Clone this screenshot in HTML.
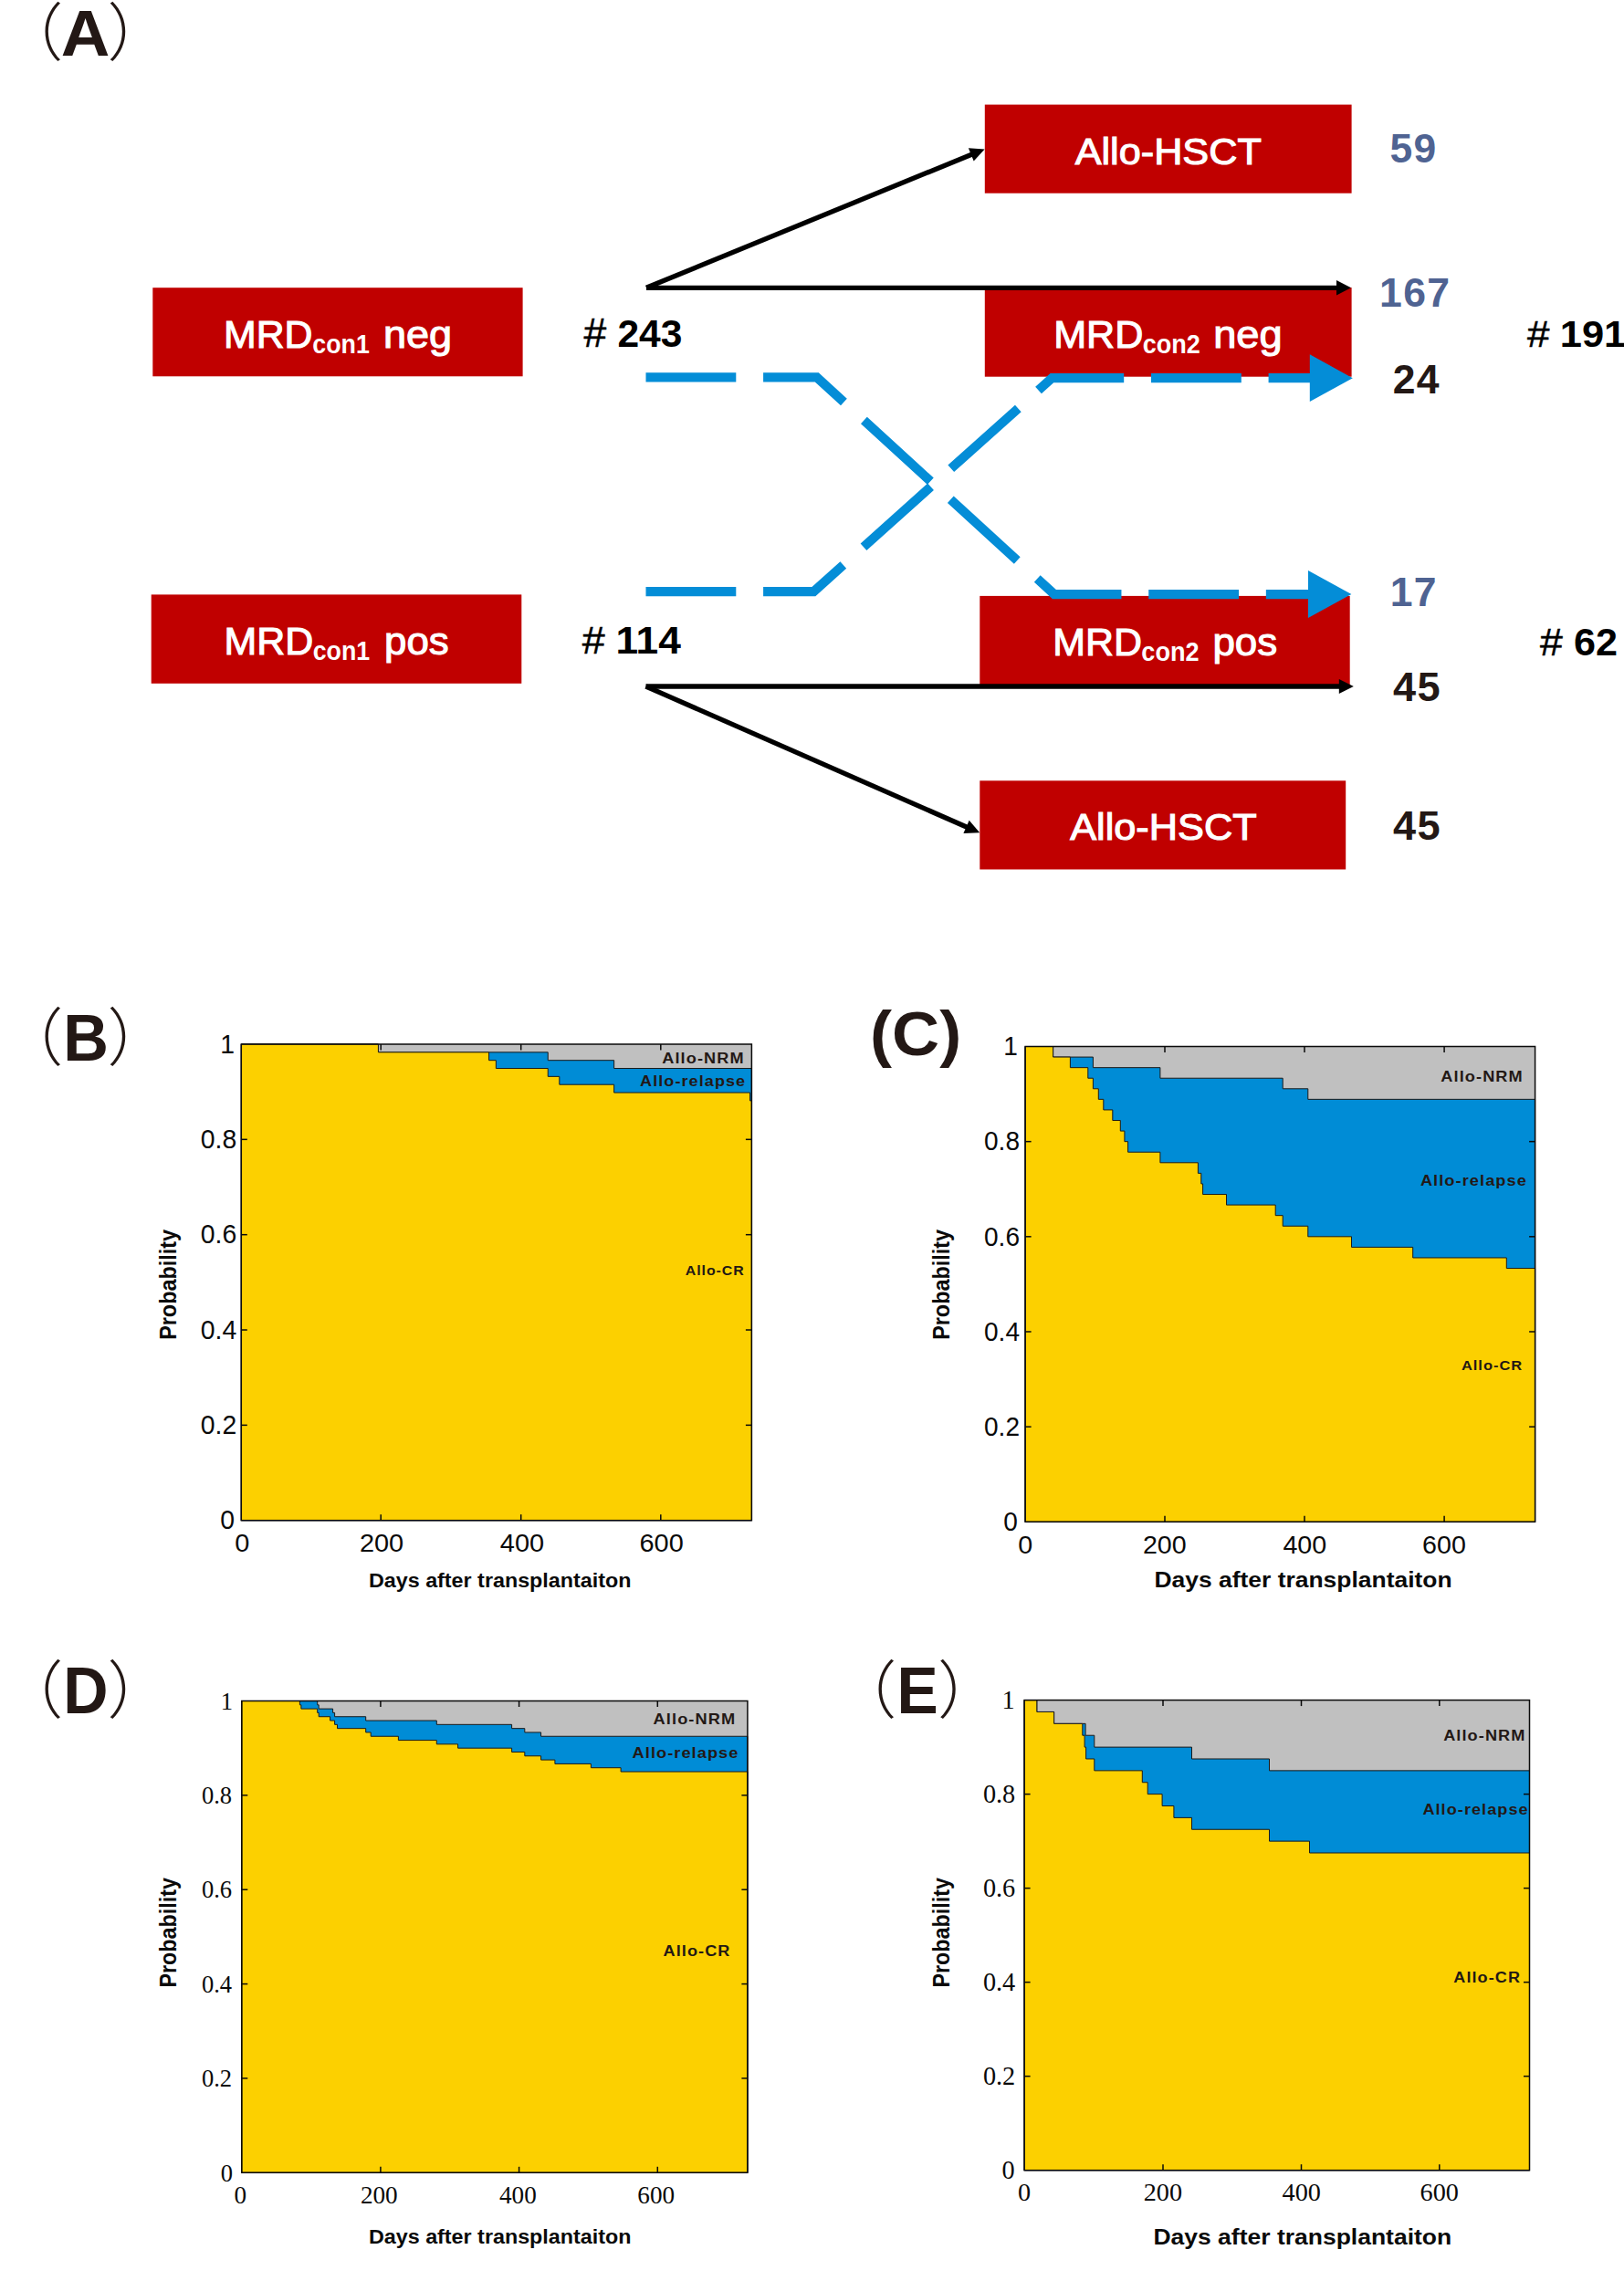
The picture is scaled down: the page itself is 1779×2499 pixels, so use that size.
<!DOCTYPE html>
<html lang="en"><head><meta charset="utf-8"><title>Figure</title>
<style>html,body{margin:0;padding:0;background:#fff}svg{display:block}</style></head>
<body>
<svg width="1779" height="2499" viewBox="0 0 1779 2499">
<rect width="1779" height="2499" fill="#fff"/>
<rect x="167.3" y="315.2" width="405.3" height="97.1" fill="#C00000"/>
<rect x="165.7" y="651.4" width="405.6" height="97.4" fill="#C00000"/>
<rect x="1078.8" y="114.6" width="401.8" height="97.1" fill="#C00000"/>
<rect x="1078.8" y="315" width="401.8" height="97.7" fill="#C00000"/>
<rect x="1073.3" y="652.9" width="405.4" height="97.6" fill="#C00000"/>
<rect x="1073.3" y="855.3" width="400.9" height="97.2" fill="#C00000"/>
<line x1="708.0" y1="315.3" x2="1466.0" y2="315.3" stroke="#000" stroke-width="5.3"/>
<polygon points="1480.0,315.3 1464.0,323.6 1464.0,307.1" fill="#000"/>
<line x1="708.0" y1="315.3" x2="1065.6" y2="168.7" stroke="#000" stroke-width="5.3"/>
<polygon points="1078.6,163.4 1066.7,176.6 1060.9,162.3" fill="#000"/>
<line x1="707.5" y1="752.0" x2="1468.8" y2="752.0" stroke="#000" stroke-width="5.5"/>
<polygon points="1482.8,752.0 1466.8,760.0 1466.8,744.0" fill="#000"/>
<line x1="707.5" y1="752.0" x2="1060.4" y2="906.7" stroke="#000" stroke-width="5.3"/>
<polygon points="1073.2,912.3 1055.4,913.0 1061.7,898.8" fill="#000"/>
<path d="M707.5,413.4 L894.8,413.4 L1154.9,651.1 L1436.0,651.1" fill="none" stroke="#048DD7" stroke-width="10.1" stroke-dasharray="98.8 29.8" stroke-linejoin="miter"/>
<polygon points="1480.4,651 1433,625.1 1433,676.9" fill="#048DD7"/>
<path d="M707.5,648.1 L891.4,648.1 L1152.5,414.1 L1437.0,414.1" fill="none" stroke="#048DD7" stroke-width="10.1" stroke-dasharray="98.8 29.8" stroke-linejoin="miter"/>
<polygon points="1481.8,414.2 1434.8,388.3 1434.8,440.09999999999997" fill="#048DD7"/>
<text transform="translate(245.08,380.7) scale(1.0107,1)" font-family='"Liberation Sans", sans-serif' font-size="42.35" fill="#fff" stroke="#fff" stroke-width="1.1">MRD</text>
<text transform="translate(342.33,386.7) scale(0.9229,1)" font-family='"Liberation Sans", sans-serif' font-size="29.03" font-weight="bold" fill="#fff" >con1</text>
<text transform="translate(419.98,380.7) scale(1.0474,1)" font-family='"Liberation Sans", sans-serif' font-size="43" fill="#fff" stroke="#fff" stroke-width="1.1">neg</text>
<text transform="translate(245.47,716.6) scale(1.0129,1)" font-family='"Liberation Sans", sans-serif' font-size="42.35" fill="#fff" stroke="#fff" stroke-width="1.1">MRD</text>
<text transform="translate(342.73,722.6) scale(0.9229,1)" font-family='"Liberation Sans", sans-serif' font-size="29.03" font-weight="bold" fill="#fff" >con1</text>
<text transform="translate(421.05,716.6) scale(1.0195,1)" font-family='"Liberation Sans", sans-serif' font-size="43" fill="#fff" stroke="#fff" stroke-width="1.1">pos</text>
<text transform="translate(1154.15,380.6) scale(1.0184,1)" font-family='"Liberation Sans", sans-serif' font-size="42.35" fill="#fff" stroke="#fff" stroke-width="1.1">MRD</text>
<text transform="translate(1251.72,386.6) scale(0.9414,1)" font-family='"Liberation Sans", sans-serif' font-size="28.75" font-weight="bold" fill="#fff" >con2</text>
<text transform="translate(1329.17,380.6) scale(1.0519,1)" font-family='"Liberation Sans", sans-serif' font-size="43" fill="#fff" stroke="#fff" stroke-width="1.1">neg</text>
<text transform="translate(1153.27,718.4) scale(1.0140,1)" font-family='"Liberation Sans", sans-serif' font-size="42.35" fill="#fff" stroke="#fff" stroke-width="1.1">MRD</text>
<text transform="translate(1250.32,724.4) scale(0.9430,1)" font-family='"Liberation Sans", sans-serif' font-size="28.75" font-weight="bold" fill="#fff" >con2</text>
<text transform="translate(1328.45,718.4) scale(1.0210,1)" font-family='"Liberation Sans", sans-serif' font-size="43" fill="#fff" stroke="#fff" stroke-width="1.1">pos</text>
<text transform="translate(1177.67,179.9) scale(1.0663,1)" font-family='"Liberation Sans", sans-serif' font-size="40.55" fill="#fff" stroke="#fff" stroke-width="1.1">Allo-HSCT</text>
<text transform="translate(1172.17,920.2) scale(1.0679,1)" font-family='"Liberation Sans", sans-serif' font-size="40.55" fill="#fff" stroke="#fff" stroke-width="1.1">Allo-HSCT</text>
<text transform="translate(639.4,380.4) scale(1.0214,1)" font-family='"Liberation Sans", sans-serif' font-size="43.51" fill="#000" stroke="#000" stroke-width="0.5">#</text>
<text transform="translate(676.46,380.4) scale(0.9903,1)" font-family='"Liberation Sans", sans-serif' font-size="42.94" font-weight="bold" fill="#000" >243</text>
<text transform="translate(637.8,715.9) scale(1.0368,1)" font-family='"Liberation Sans", sans-serif' font-size="43.22" fill="#000" stroke="#000" stroke-width="0.5">#</text>
<text transform="translate(674.38,715.9) scale(1.0312,1)" font-family='"Liberation Sans", sans-serif' font-size="42.95" font-weight="bold" fill="#000" >114</text>
<text transform="translate(1673.1,379.8) scale(1.0586,1)" font-family='"Liberation Sans", sans-serif' font-size="41.46" fill="#000" stroke="#000" stroke-width="0.5">#</text>
<text transform="translate(1708.74,379.8) scale(1.0591,1)" font-family='"Liberation Sans", sans-serif' font-size="41.04" font-weight="bold" fill="#000" >191</text>
<text transform="translate(1687,717.5) scale(1.0539,1)" font-family='"Liberation Sans", sans-serif' font-size="42.34" fill="#000" stroke="#000" stroke-width="0.5">#</text>
<text transform="translate(1724.12,717.5) scale(1.0340,1)" font-family='"Liberation Sans", sans-serif' font-size="41.7" font-weight="bold" fill="#000" >62</text>
<text transform="translate(1522.57,177.8) scale(0.9879,1)" font-family='"Liberation Sans", sans-serif' font-size="44.97" font-weight="bold" fill="#4F6392"  letter-spacing="1.35">59</text>
<text transform="translate(1511.07,336.2) scale(0.9923,1)" font-family='"Liberation Sans", sans-serif' font-size="44.9" font-weight="bold" fill="#4F6392"  letter-spacing="1.35">167</text>
<text transform="translate(1525.79,431.4) scale(0.9913,1)" font-family='"Liberation Sans", sans-serif' font-size="44.87" font-weight="bold" fill="#231815"  letter-spacing="1.35">24</text>
<text transform="translate(1522.67,663.6) scale(1.0007,1)" font-family='"Liberation Sans", sans-serif' font-size="44.51" font-weight="bold" fill="#4F6392"  letter-spacing="1.34">17</text>
<text transform="translate(1526.09,768.1) scale(1.0057,1)" font-family='"Liberation Sans", sans-serif' font-size="44.94" font-weight="bold" fill="#231815"  letter-spacing="1.35">45</text>
<text transform="translate(1526.09,919.9) scale(1.0123,1)" font-family='"Liberation Sans", sans-serif' font-size="44.65" font-weight="bold" fill="#231815"  letter-spacing="1.34">45</text>
<text transform="translate(66.87,60.6) scale(1.0418,1)" font-family='"Liberation Sans", sans-serif' font-size="71.25" font-weight="bold" fill="#231815" >A</text>
<text x="0.2" y="61.1" font-family='"Noto Sans CJK SC", "Liberation Sans", sans-serif' font-size="69" font-weight="300" fill="#231815">（</text>
<text x="117.6" y="61.1" font-family='"Noto Sans CJK SC", "Liberation Sans", sans-serif' font-size="69" font-weight="300" fill="#231815">）</text>
<text transform="translate(69.3,1161.8) scale(0.9572,1)" font-family='"Liberation Sans", sans-serif' font-size="71.87" font-weight="bold" fill="#231815" >B</text>
<text x="0.2" y="1161.8" font-family='"Noto Sans CJK SC", "Liberation Sans", sans-serif' font-size="69" font-weight="300" fill="#231815">（</text>
<text x="117.6" y="1161.8" font-family='"Noto Sans CJK SC", "Liberation Sans", sans-serif' font-size="69" font-weight="300" fill="#231815">）</text>
<text transform="translate(69.34,1876.7) scale(0.9508,1)" font-family='"Liberation Sans", sans-serif' font-size="71.75" font-weight="bold" fill="#231815" >D</text>
<text x="0.2" y="1876.9" font-family='"Noto Sans CJK SC", "Liberation Sans", sans-serif' font-size="69" font-weight="300" fill="#231815">（</text>
<text x="117.6" y="1876.9" font-family='"Noto Sans CJK SC", "Liberation Sans", sans-serif' font-size="69" font-weight="300" fill="#231815">）</text>
<text transform="translate(982.57,1876.7) scale(0.9483,1)" font-family='"Liberation Sans", sans-serif' font-size="71.45" font-weight="bold" fill="#231815" >E</text>
<text x="913.2" y="1876.9" font-family='"Noto Sans CJK SC", "Liberation Sans", sans-serif' font-size="69" font-weight="300" fill="#231815">（</text>
<text x="1027.1" y="1876.9" font-family='"Noto Sans CJK SC", "Liberation Sans", sans-serif' font-size="69" font-weight="300" fill="#231815">）</text>
<text transform="translate(953.06,1156) scale(1.0531,1)" font-family='"Liberation Sans", sans-serif' font-size="68.49" font-weight="bold" fill="#231815" >(C)</text>
<rect x="264.3" y="1144" width="559.1" height="521.7" fill="#C0C0C0"/>
<path d="M264.3,1144 L414.41,1144 L414.41,1152.84 L600.24,1152.84 L600.24,1161.68 L672.65,1161.68 L672.65,1170.53 L823.4,1170.53 L823.4,1665.7 L264.3,1665.7 Z" fill="#008CD6" stroke="#1a1a1a" stroke-width="1" stroke-linejoin="miter"/>
<path d="M264.3,1144 L414.41,1144 L414.41,1152.84 L535.59,1152.84 L535.59,1161.68 L543.35,1161.68 L543.35,1170.53 L600.24,1170.53 L600.24,1179.37 L612.8,1179.37 L612.8,1188.21 L672.65,1188.21 L672.65,1197.05 L821.54,1197.05 L821.54,1205.9 L823.4,1205.9 L823.4,1665.7 L264.3,1665.7 Z" fill="#FCD000" stroke="#1a1a1a" stroke-width="1" stroke-linejoin="miter"/>
<rect x="264.3" y="1144" width="559.1" height="521.7" fill="none" stroke="#0a0a0a" stroke-width="1.5"/>
<text transform="translate(257.01,1675.2) scale(0.9674,1)" font-family='"Liberation Sans", sans-serif' font-size="29.33" text-anchor="end" fill="#0a0a0a">0</text>
<line x1="264.3" y1="1561.36" x2="270.8" y2="1561.36" stroke="#0a0a0a" stroke-width="1.5"/>
<line x1="823.4" y1="1561.36" x2="816.9" y2="1561.36" stroke="#0a0a0a" stroke-width="1.5"/>
<text transform="translate(259.21,1570.86) scale(0.9674,1)" font-family='"Liberation Sans", sans-serif' font-size="29.33" text-anchor="end" fill="#0a0a0a">0.2</text>
<line x1="264.3" y1="1457.02" x2="270.8" y2="1457.02" stroke="#0a0a0a" stroke-width="1.5"/>
<line x1="823.4" y1="1457.02" x2="816.9" y2="1457.02" stroke="#0a0a0a" stroke-width="1.5"/>
<text transform="translate(259.21,1466.52) scale(0.9674,1)" font-family='"Liberation Sans", sans-serif' font-size="29.33" text-anchor="end" fill="#0a0a0a">0.4</text>
<line x1="264.3" y1="1352.68" x2="270.8" y2="1352.68" stroke="#0a0a0a" stroke-width="1.5"/>
<line x1="823.4" y1="1352.68" x2="816.9" y2="1352.68" stroke="#0a0a0a" stroke-width="1.5"/>
<text transform="translate(259.21,1362.18) scale(0.9674,1)" font-family='"Liberation Sans", sans-serif' font-size="29.33" text-anchor="end" fill="#0a0a0a">0.6</text>
<line x1="264.3" y1="1248.34" x2="270.8" y2="1248.34" stroke="#0a0a0a" stroke-width="1.5"/>
<line x1="823.4" y1="1248.34" x2="816.9" y2="1248.34" stroke="#0a0a0a" stroke-width="1.5"/>
<text transform="translate(259.21,1257.84) scale(0.9674,1)" font-family='"Liberation Sans", sans-serif' font-size="29.33" text-anchor="end" fill="#0a0a0a">0.8</text>
<text transform="translate(257.01,1153.5) scale(0.9674,1)" font-family='"Liberation Sans", sans-serif' font-size="29.33" text-anchor="end" fill="#0a0a0a">1</text>
<text transform="translate(257.29,1700.2) scale(1.0493,1)" font-family='"Liberation Sans", sans-serif' font-size="27.61" fill="#0a0a0a" >0</text>
<line x1="417.2" y1="1665.7" x2="417.2" y2="1659.2" stroke="#0a0a0a" stroke-width="1.5"/>
<line x1="417.2" y1="1144" x2="417.2" y2="1150.5" stroke="#0a0a0a" stroke-width="1.5"/>
<text transform="translate(393.88,1700.2) scale(1.0494,1)" font-family='"Liberation Sans", sans-serif' font-size="27.61" fill="#0a0a0a" >200</text>
<line x1="570.7" y1="1665.7" x2="570.7" y2="1659.2" stroke="#0a0a0a" stroke-width="1.5"/>
<line x1="570.7" y1="1144" x2="570.7" y2="1150.5" stroke="#0a0a0a" stroke-width="1.5"/>
<text transform="translate(547.81,1700.2) scale(1.0491,1)" font-family='"Liberation Sans", sans-serif' font-size="27.62" fill="#0a0a0a" >400</text>
<line x1="723.8" y1="1665.7" x2="723.8" y2="1659.2" stroke="#0a0a0a" stroke-width="1.5"/>
<line x1="723.8" y1="1144" x2="723.8" y2="1150.5" stroke="#0a0a0a" stroke-width="1.5"/>
<text transform="translate(700.46,1700.2) scale(1.0494,1)" font-family='"Liberation Sans", sans-serif' font-size="27.61" fill="#0a0a0a" >600</text>
<text transform="translate(725.28,1164.6) scale(1.0682,1)" font-family='"Liberation Sans", sans-serif' font-size="16.99" font-weight="bold" fill="#231815"  letter-spacing="1.02">Allo-NRM</text>
<text transform="translate(701.08,1189.6) scale(1.1054,1)" font-family='"Liberation Sans", sans-serif' font-size="16.3" font-weight="bold" fill="#231815"  letter-spacing="0.98">Allo-relapse</text>
<text transform="translate(750.74,1396.5) scale(1.0461,1)" font-family='"Liberation Sans", sans-serif' font-size="15.21" font-weight="bold" fill="#231815"  letter-spacing="0.91">Allo-CR</text>
<text transform="translate(403.94,1739) scale(1.0229,1)" font-family='"Liberation Sans", sans-serif' font-size="22.79" font-weight="bold" fill="#0a0a0a" >Days after transplantaiton</text>
<text transform="translate(192.9,1467.87) rotate(-90) scale(0.9046,1)" font-family='"Liberation Sans", sans-serif' font-size="25.89" font-weight="bold" fill="#0a0a0a">Probability</text>
<rect x="1123.1" y="1146.5" width="558.5" height="520.8" fill="#C0C0C0"/>
<path d="M1123.1,1146.5 L1153.6,1146.5 L1153.6,1158.07 L1197.4,1158.07 L1197.4,1169.65 L1270.9,1169.65 L1270.9,1181.22 L1405.2,1181.22 L1405.2,1192.79 L1432.8,1192.79 L1432.8,1204.37 L1681.6,1204.37 L1681.6,1667.3 L1123.1,1667.3 Z" fill="#008CD6" stroke="#1a1a1a" stroke-width="1" stroke-linejoin="miter"/>
<path d="M1123.1,1146.5 L1153.6,1146.5 L1153.6,1158.07 L1172.4,1158.07 L1172.4,1169.65 L1191.8,1169.65 L1191.8,1181.22 L1197.4,1181.22 L1197.4,1192.79 L1203.3,1192.79 L1203.3,1204.37 L1208.8,1204.37 L1208.8,1215.94 L1218.8,1215.94 L1218.8,1227.51 L1227.3,1227.51 L1227.3,1239.09 L1231.9,1239.09 L1231.9,1250.66 L1235.6,1250.66 L1235.6,1262.23 L1270.9,1262.23 L1270.9,1273.81 L1312.4,1273.81 L1312.4,1285.38 L1315.8,1285.38 L1315.8,1296.95 L1317.6,1296.95 L1317.6,1308.53 L1343.5,1308.53 L1343.5,1320.1 L1397.2,1320.1 L1397.2,1331.67 L1405.2,1331.67 L1405.2,1343.25 L1432.8,1343.25 L1432.8,1354.82 L1480.5,1354.82 L1480.5,1366.39 L1547.7,1366.39 L1547.7,1377.97 L1650.3,1377.97 L1650.3,1389.54 L1681.6,1389.54 L1681.6,1667.3 L1123.1,1667.3 Z" fill="#FCD000" stroke="#1a1a1a" stroke-width="1" stroke-linejoin="miter"/>
<rect x="1123.1" y="1146.5" width="558.5" height="520.8" fill="none" stroke="#0a0a0a" stroke-width="1.5"/>
<text transform="translate(1114.9,1677.1) scale(0.9569,1)" font-family='"Liberation Sans", sans-serif' font-size="29.33" text-anchor="end" fill="#0a0a0a">0</text>
<line x1="1123.1" y1="1563.14" x2="1129.6" y2="1563.14" stroke="#0a0a0a" stroke-width="1.5"/>
<line x1="1681.6" y1="1563.14" x2="1675.1" y2="1563.14" stroke="#0a0a0a" stroke-width="1.5"/>
<text transform="translate(1117,1572.94) scale(0.9569,1)" font-family='"Liberation Sans", sans-serif' font-size="29.33" text-anchor="end" fill="#0a0a0a">0.2</text>
<line x1="1123.1" y1="1458.98" x2="1129.6" y2="1458.98" stroke="#0a0a0a" stroke-width="1.5"/>
<line x1="1681.6" y1="1458.98" x2="1675.1" y2="1458.98" stroke="#0a0a0a" stroke-width="1.5"/>
<text transform="translate(1117,1468.78) scale(0.9569,1)" font-family='"Liberation Sans", sans-serif' font-size="29.33" text-anchor="end" fill="#0a0a0a">0.4</text>
<line x1="1123.1" y1="1354.82" x2="1129.6" y2="1354.82" stroke="#0a0a0a" stroke-width="1.5"/>
<line x1="1681.6" y1="1354.82" x2="1675.1" y2="1354.82" stroke="#0a0a0a" stroke-width="1.5"/>
<text transform="translate(1117,1364.62) scale(0.9569,1)" font-family='"Liberation Sans", sans-serif' font-size="29.33" text-anchor="end" fill="#0a0a0a">0.6</text>
<line x1="1123.1" y1="1250.66" x2="1129.6" y2="1250.66" stroke="#0a0a0a" stroke-width="1.5"/>
<line x1="1681.6" y1="1250.66" x2="1675.1" y2="1250.66" stroke="#0a0a0a" stroke-width="1.5"/>
<text transform="translate(1117,1260.46) scale(0.9569,1)" font-family='"Liberation Sans", sans-serif' font-size="29.33" text-anchor="end" fill="#0a0a0a">0.8</text>
<text transform="translate(1114.9,1156.3) scale(0.9569,1)" font-family='"Liberation Sans", sans-serif' font-size="29.33" text-anchor="end" fill="#0a0a0a">1</text>
<text transform="translate(1115.17,1701.6) scale(1.0377,1)" font-family='"Liberation Sans", sans-serif' font-size="27.61" fill="#0a0a0a" >0</text>
<line x1="1276" y1="1667.3" x2="1276" y2="1660.8" stroke="#0a0a0a" stroke-width="1.5"/>
<line x1="1276" y1="1146.5" x2="1276" y2="1153.0" stroke="#0a0a0a" stroke-width="1.5"/>
<text transform="translate(1251.94,1701.6) scale(1.0379,1)" font-family='"Liberation Sans", sans-serif' font-size="27.61" fill="#0a0a0a" >200</text>
<line x1="1429" y1="1667.3" x2="1429" y2="1660.8" stroke="#0a0a0a" stroke-width="1.5"/>
<line x1="1429" y1="1146.5" x2="1429" y2="1153.0" stroke="#0a0a0a" stroke-width="1.5"/>
<text transform="translate(1405.38,1701.6) scale(1.0375,1)" font-family='"Liberation Sans", sans-serif' font-size="27.62" fill="#0a0a0a" >400</text>
<line x1="1582.1" y1="1667.3" x2="1582.1" y2="1660.8" stroke="#0a0a0a" stroke-width="1.5"/>
<line x1="1582.1" y1="1146.5" x2="1582.1" y2="1153.0" stroke="#0a0a0a" stroke-width="1.5"/>
<text transform="translate(1558.03,1701.6) scale(1.0379,1)" font-family='"Liberation Sans", sans-serif' font-size="27.61" fill="#0a0a0a" >600</text>
<text transform="translate(1578.28,1184.8) scale(1.0536,1)" font-family='"Liberation Sans", sans-serif' font-size="17.26" font-weight="bold" fill="#231815"  letter-spacing="1.04">Allo-NRM</text>
<text transform="translate(1555.88,1298.5) scale(1.0701,1)" font-family='"Liberation Sans", sans-serif' font-size="16.99" font-weight="bold" fill="#231815"  letter-spacing="1.02">Allo-relapse</text>
<text transform="translate(1600.93,1500.7) scale(1.0634,1)" font-family='"Liberation Sans", sans-serif' font-size="15.48" font-weight="bold" fill="#231815"  letter-spacing="0.93">Allo-CR</text>
<text transform="translate(1264.53,1738.6) scale(1.0700,1)" font-family='"Liberation Sans", sans-serif' font-size="24.71" font-weight="bold" fill="#0a0a0a" >Days after transplantaiton</text>
<text transform="translate(1040.4,1467.87) rotate(-90) scale(0.9046,1)" font-family='"Liberation Sans", sans-serif' font-size="25.89" font-weight="bold" fill="#0a0a0a">Probability</text>
<rect x="264.8" y="1863.5" width="554.1" height="516.8" fill="#C0C0C0"/>
<path d="M264.8,1863.5 L347.7,1863.5 L347.7,1867.81 L349.2,1867.81 L349.2,1872.11 L364.6,1872.11 L364.6,1876.42 L366.6,1876.42 L366.6,1880.73 L400.7,1880.73 L400.7,1885.03 L478.3,1885.03 L478.3,1889.34 L560.6,1889.34 L560.6,1893.65 L574.8,1893.65 L574.8,1897.95 L592.6,1897.95 L592.6,1902.26 L818.9,1902.26 L818.9,2380.3 L264.8,2380.3 Z" fill="#008CD6" stroke="#1a1a1a" stroke-width="1" stroke-linejoin="miter"/>
<path d="M264.8,1863.5 L328.4,1863.5 L328.4,1867.81 L329.9,1867.81 L329.9,1872.11 L347.7,1872.11 L347.7,1876.42 L349.2,1876.42 L349.2,1880.73 L361.6,1880.73 L361.6,1885.03 L366.6,1885.03 L366.6,1889.34 L369.5,1889.34 L369.5,1893.65 L400.7,1893.65 L400.7,1897.95 L406.2,1897.95 L406.2,1902.26 L436.4,1902.26 L436.4,1906.57 L478.3,1906.57 L478.3,1910.87 L501.6,1910.87 L501.6,1915.18 L560.6,1915.18 L560.6,1919.49 L574.8,1919.49 L574.8,1923.79 L592.6,1923.79 L592.6,1928.1 L607.9,1928.1 L607.9,1932.41 L647.4,1932.41 L647.4,1936.71 L680.1,1936.71 L680.1,1941.02 L818.9,1941.02 L818.9,2380.3 L264.8,2380.3 Z" fill="#FCD000" stroke="#1a1a1a" stroke-width="1" stroke-linejoin="miter"/>
<rect x="264.8" y="1863.5" width="554.1" height="516.8" fill="none" stroke="#0a0a0a" stroke-width="1.5"/>
<text transform="translate(255.15,2389.55) scale(0.9364,1)" font-family='"Liberation Serif", serif' font-size="28.37" text-anchor="end" fill="#0a0a0a">0</text>
<line x1="264.8" y1="2276.94" x2="271.3" y2="2276.94" stroke="#0a0a0a" stroke-width="1.5"/>
<line x1="818.9" y1="2276.94" x2="812.4" y2="2276.94" stroke="#0a0a0a" stroke-width="1.5"/>
<text transform="translate(254.15,2286.19) scale(0.9364,1)" font-family='"Liberation Serif", serif' font-size="28.37" text-anchor="end" fill="#0a0a0a">0.2</text>
<line x1="264.8" y1="2173.58" x2="271.3" y2="2173.58" stroke="#0a0a0a" stroke-width="1.5"/>
<line x1="818.9" y1="2173.58" x2="812.4" y2="2173.58" stroke="#0a0a0a" stroke-width="1.5"/>
<text transform="translate(254.15,2182.83) scale(0.9364,1)" font-family='"Liberation Serif", serif' font-size="28.37" text-anchor="end" fill="#0a0a0a">0.4</text>
<line x1="264.8" y1="2070.22" x2="271.3" y2="2070.22" stroke="#0a0a0a" stroke-width="1.5"/>
<line x1="818.9" y1="2070.22" x2="812.4" y2="2070.22" stroke="#0a0a0a" stroke-width="1.5"/>
<text transform="translate(254.15,2079.47) scale(0.9364,1)" font-family='"Liberation Serif", serif' font-size="28.37" text-anchor="end" fill="#0a0a0a">0.6</text>
<line x1="264.8" y1="1966.86" x2="271.3" y2="1966.86" stroke="#0a0a0a" stroke-width="1.5"/>
<line x1="818.9" y1="1966.86" x2="812.4" y2="1966.86" stroke="#0a0a0a" stroke-width="1.5"/>
<text transform="translate(254.15,1976.11) scale(0.9364,1)" font-family='"Liberation Serif", serif' font-size="28.37" text-anchor="end" fill="#0a0a0a">0.8</text>
<text transform="translate(255.15,1872.75) scale(0.9364,1)" font-family='"Liberation Serif", serif' font-size="28.37" text-anchor="end" fill="#0a0a0a">1</text>
<text transform="translate(256.5,2414.3) scale(0.9742,1)" font-family='"Liberation Serif", serif' font-size="27.91" fill="#0a0a0a" >0</text>
<line x1="416.9" y1="2380.3" x2="416.9" y2="2373.8" stroke="#0a0a0a" stroke-width="1.5"/>
<line x1="416.9" y1="1863.5" x2="416.9" y2="1870.0" stroke="#0a0a0a" stroke-width="1.5"/>
<text transform="translate(394.94,2414.3) scale(0.9742,1)" font-family='"Liberation Serif", serif' font-size="27.91" fill="#0a0a0a" >200</text>
<line x1="568.6" y1="2380.3" x2="568.6" y2="2373.8" stroke="#0a0a0a" stroke-width="1.5"/>
<line x1="568.6" y1="1863.5" x2="568.6" y2="1870.0" stroke="#0a0a0a" stroke-width="1.5"/>
<text transform="translate(546.98,2414.3) scale(0.9736,1)" font-family='"Liberation Serif", serif' font-size="27.93" fill="#0a0a0a" >400</text>
<line x1="720.3" y1="2380.3" x2="720.3" y2="2373.8" stroke="#0a0a0a" stroke-width="1.5"/>
<line x1="720.3" y1="1863.5" x2="720.3" y2="1870.0" stroke="#0a0a0a" stroke-width="1.5"/>
<text transform="translate(698.31,2414.3) scale(0.9741,1)" font-family='"Liberation Serif", serif' font-size="27.91" fill="#0a0a0a" >600</text>
<text transform="translate(715.58,1888.5) scale(1.0560,1)" font-family='"Liberation Sans", sans-serif' font-size="17.26" font-weight="bold" fill="#231815"  letter-spacing="1.04">Allo-NRM</text>
<text transform="translate(692.58,1925.6) scale(1.1029,1)" font-family='"Liberation Sans", sans-serif' font-size="16.44" font-weight="bold" fill="#231815"  letter-spacing="0.99">Allo-relapse</text>
<text transform="translate(726.58,2142.8) scale(1.0654,1)" font-family='"Liberation Sans", sans-serif' font-size="16.99" font-weight="bold" fill="#231815"  letter-spacing="1.02">Allo-CR</text>
<text transform="translate(403.94,2458.1) scale(1.0229,1)" font-family='"Liberation Sans", sans-serif' font-size="22.79" font-weight="bold" fill="#0a0a0a" >Days after transplantaiton</text>
<text transform="translate(192.9,2177.56) rotate(-90) scale(0.9024,1)" font-family='"Liberation Sans", sans-serif' font-size="25.89" font-weight="bold" fill="#0a0a0a">Probability</text>
<rect x="1122.1" y="1862.6" width="553.4" height="515.1" fill="#C0C0C0"/>
<path d="M1122.1,1862.6 L1135.8,1862.6 L1135.8,1875.48 L1154.6,1875.48 L1154.6,1888.36 L1189.1,1888.36 L1189.1,1901.23 L1198.8,1901.23 L1198.8,1914.11 L1305.5,1914.11 L1305.5,1926.99 L1390.5,1926.99 L1390.5,1939.86 L1675.5,1939.86 L1675.5,2377.7 L1122.1,2377.7 Z" fill="#008CD6" stroke="#1a1a1a" stroke-width="1" stroke-linejoin="miter"/>
<path d="M1122.1,1862.6 L1135.8,1862.6 L1135.8,1875.48 L1154.6,1875.48 L1154.6,1888.36 L1185.8,1888.36 L1185.8,1901.23 L1188.1,1901.23 L1188.1,1914.11 L1189.6,1914.11 L1189.6,1926.99 L1198.8,1926.99 L1198.8,1939.86 L1251.3,1939.86 L1251.3,1952.74 L1257.2,1952.74 L1257.2,1965.62 L1273.1,1965.62 L1273.1,1978.5 L1285.9,1978.5 L1285.9,1991.38 L1305.5,1991.38 L1305.5,2004.25 L1390.5,2004.25 L1390.5,2017.13 L1434.5,2017.13 L1434.5,2030.01 L1675.5,2030.01 L1675.5,2377.7 L1122.1,2377.7 Z" fill="#FCD000" stroke="#1a1a1a" stroke-width="1" stroke-linejoin="miter"/>
<rect x="1122.1" y="1862.6" width="553.4" height="515.1" fill="none" stroke="#0a0a0a" stroke-width="1.5"/>
<text transform="translate(1111.62,2387.3) scale(0.9603,1)" font-family='"Liberation Serif", serif' font-size="29.44" text-anchor="end" fill="#0a0a0a">0</text>
<line x1="1122.1" y1="2274.68" x2="1128.6" y2="2274.68" stroke="#0a0a0a" stroke-width="1.5"/>
<line x1="1675.5" y1="2274.68" x2="1669.0" y2="2274.68" stroke="#0a0a0a" stroke-width="1.5"/>
<text transform="translate(1112.22,2284.28) scale(0.9603,1)" font-family='"Liberation Serif", serif' font-size="29.44" text-anchor="end" fill="#0a0a0a">0.2</text>
<line x1="1122.1" y1="2171.66" x2="1128.6" y2="2171.66" stroke="#0a0a0a" stroke-width="1.5"/>
<line x1="1675.5" y1="2171.66" x2="1669.0" y2="2171.66" stroke="#0a0a0a" stroke-width="1.5"/>
<text transform="translate(1112.22,2181.26) scale(0.9603,1)" font-family='"Liberation Serif", serif' font-size="29.44" text-anchor="end" fill="#0a0a0a">0.4</text>
<line x1="1122.1" y1="2068.64" x2="1128.6" y2="2068.64" stroke="#0a0a0a" stroke-width="1.5"/>
<line x1="1675.5" y1="2068.64" x2="1669.0" y2="2068.64" stroke="#0a0a0a" stroke-width="1.5"/>
<text transform="translate(1112.22,2078.24) scale(0.9603,1)" font-family='"Liberation Serif", serif' font-size="29.44" text-anchor="end" fill="#0a0a0a">0.6</text>
<line x1="1122.1" y1="1965.62" x2="1128.6" y2="1965.62" stroke="#0a0a0a" stroke-width="1.5"/>
<line x1="1675.5" y1="1965.62" x2="1669.0" y2="1965.62" stroke="#0a0a0a" stroke-width="1.5"/>
<text transform="translate(1112.22,1975.22) scale(0.9603,1)" font-family='"Liberation Serif", serif' font-size="29.44" text-anchor="end" fill="#0a0a0a">0.8</text>
<text transform="translate(1111.62,1872.2) scale(0.9603,1)" font-family='"Liberation Serif", serif' font-size="29.44" text-anchor="end" fill="#0a0a0a">1</text>
<text transform="translate(1115.04,2410.7) scale(1.0121,1)" font-family='"Liberation Serif", serif' font-size="27.91" fill="#0a0a0a" >0</text>
<line x1="1274" y1="2377.7" x2="1274" y2="2371.2" stroke="#0a0a0a" stroke-width="1.5"/>
<line x1="1274" y1="1862.6" x2="1274" y2="1869.1" stroke="#0a0a0a" stroke-width="1.5"/>
<text transform="translate(1252.74,2410.7) scale(1.0121,1)" font-family='"Liberation Serif", serif' font-size="27.91" fill="#0a0a0a" >200</text>
<line x1="1425.5" y1="2377.7" x2="1425.5" y2="2371.2" stroke="#0a0a0a" stroke-width="1.5"/>
<line x1="1425.5" y1="1862.6" x2="1425.5" y2="1869.1" stroke="#0a0a0a" stroke-width="1.5"/>
<text transform="translate(1404.59,2410.7) scale(1.0115,1)" font-family='"Liberation Serif", serif' font-size="27.93" fill="#0a0a0a" >400</text>
<line x1="1576.8" y1="2377.7" x2="1576.8" y2="2371.2" stroke="#0a0a0a" stroke-width="1.5"/>
<line x1="1576.8" y1="1862.6" x2="1576.8" y2="1869.1" stroke="#0a0a0a" stroke-width="1.5"/>
<text transform="translate(1555.51,2410.7) scale(1.0121,1)" font-family='"Liberation Serif", serif' font-size="27.91" fill="#0a0a0a" >600</text>
<text transform="translate(1581.18,1906.6) scale(1.0442,1)" font-family='"Liberation Sans", sans-serif' font-size="17.4" font-weight="bold" fill="#231815"  letter-spacing="1.04">Allo-NRM</text>
<text transform="translate(1558.38,1988.2) scale(1.0900,1)" font-family='"Liberation Sans", sans-serif' font-size="16.58" font-weight="bold" fill="#231815"  letter-spacing="0.99">Allo-relapse</text>
<text transform="translate(1592.28,2171.9) scale(1.0624,1)" font-family='"Liberation Sans", sans-serif' font-size="16.99" font-weight="bold" fill="#231815"  letter-spacing="1.02">Allo-CR</text>
<text transform="translate(1263.43,2458.5) scale(1.0723,1)" font-family='"Liberation Sans", sans-serif' font-size="24.71" font-weight="bold" fill="#0a0a0a" >Days after transplantaiton</text>
<text transform="translate(1040.4,2177.56) rotate(-90) scale(0.9024,1)" font-family='"Liberation Sans", sans-serif' font-size="25.89" font-weight="bold" fill="#0a0a0a">Probability</text>
</svg>
</body></html>
